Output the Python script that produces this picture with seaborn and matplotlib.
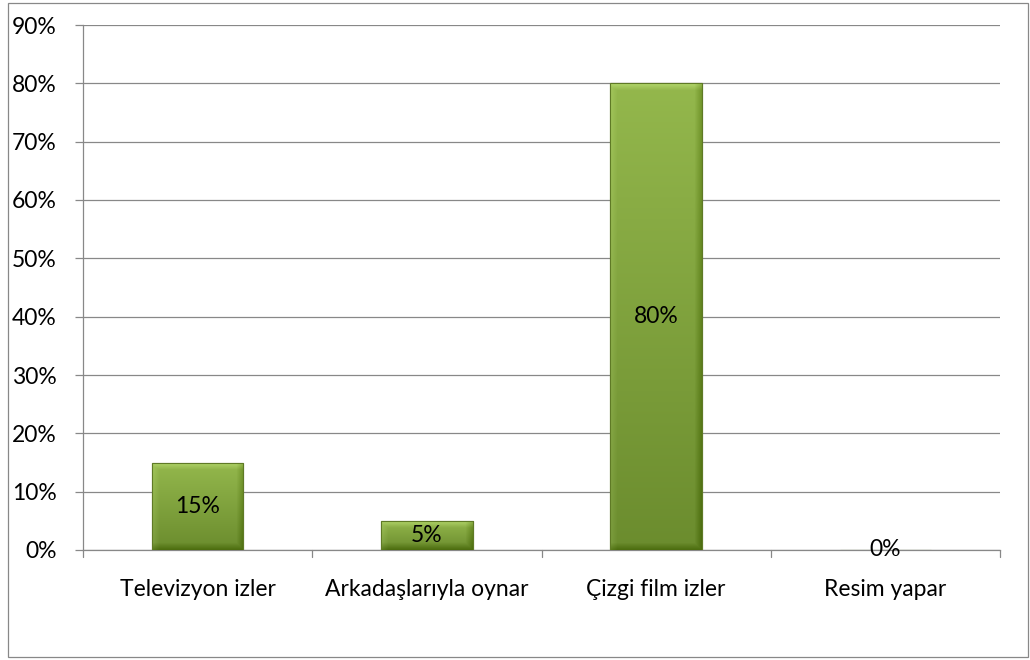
import matplotlib.pyplot as plt
import seaborn as sns
import numpy as np
import pandas as pd
from matplotlib.patches import Rectangle

# Chart data
categories = ["Televizyon izler", "Arkadaşlarıyla oynar", "Çizgi film izler", "Resim yapar"]
values = [15, 5, 80, 0]
yticks = [0, 10, 20, 30, 40, 50, 60, 70, 80, 90]

df = pd.DataFrame({"kategori": categories, "yuzde": values})

sns.set_theme(style="white")
plt.rcParams['font.family'] = ['Lato', 'DejaVu Sans']
FS = 16.5

fig = plt.figure(figsize=(10.3, 6.6), dpi=100)
ax = fig.add_axes([83 / 1030, 1 - 550 / 660, 917 / 1030, 525 / 660])

sns.barplot(data=df, x="kategori", y="yuzde", color="#86a83f", width=0.4,
            edgecolor="#5f7a26", linewidth=0.8, ax=ax, zorder=3)

ax.set_xlim(-0.5, len(categories) - 0.5)
ax.set_ylim(0, 90)

# bevelled gradient fill for each bar (Excel style)
top = np.array([0.58, 0.72, 0.30])
bottom = np.array([0.42, 0.55, 0.18])
px_per_unit_y = 525 / 90
px_per_unit_x = 917 / len(categories)
bev = 7.0
for p in ax.patches:
    h = p.get_height()
    if h <= 0:
        continue
    x0 = p.get_x()
    w = p.get_width()
    nh = max(int(h * px_per_unit_y), 2)
    nw = max(int(w * px_per_unit_x), 2)
    yy, xx = np.mgrid[0:nh, 0:nw]
    t = yy / max(nh - 1, 1)
    base = top + (bottom - top) * t[..., None]
    # bevel: light on top/left, dark on right/bottom
    d_top = np.clip(1 - yy / bev, 0, 1)
    d_left = np.clip(1 - xx / bev, 0, 1)
    d_right = np.clip(1 - (nw - 1 - xx) / bev, 0, 1)
    d_bot = np.clip(1 - (nh - 1 - yy) / bev, 0, 1)
    lighten = np.maximum(d_top, d_left * 0.5)[..., None] * 0.12
    darken = np.maximum(d_right, d_bot)[..., None] * 0.12
    img = np.clip(base + lighten - darken, 0, 1)
    im = ax.imshow(img, extent=[x0, x0 + w, 0, h], origin="upper", aspect="auto",
                   zorder=3.5, interpolation="bilinear")
    im.set_clip_path(p)
    ax.add_patch(Rectangle((x0, 0), w, h, fill=False, edgecolor="#5f7a26",
                           linewidth=0.8, zorder=4))

ax.set_xlim(-0.5, len(categories) - 0.5)
ax.set_ylim(0, 90)

# data labels at the middle of each bar
for i, v in enumerate(values):
    ax.text(i, v / 2, f"{v}%", ha="center", va="center", fontsize=FS,
            color="black", zorder=5)

ax.set_yticks(yticks)
ax.set_yticklabels([f"{t}%" for t in yticks], fontsize=FS)
ax.set_xticks(range(len(categories)))
ax.set_xticklabels(categories, fontsize=FS)
ax.set_xlabel("")
ax.set_ylabel("")

ax.yaxis.grid(True, color="#888888", linewidth=0.9, zorder=0)
ax.xaxis.grid(False)
ax.set_axisbelow(True)

for side in ["top", "right"]:
    ax.spines[side].set_visible(False)
for side in ["left", "bottom"]:
    ax.spines[side].set_color("#888888")
    ax.spines[side].set_linewidth(0.9)

ax.tick_params(axis="y", left=True, length=5.8, width=0.9, pad=13,
               color="#888888", labelcolor="black")
ax.tick_params(axis="x", bottom=False, pad=15, labelcolor="black")
# tick marks between categories
for b in np.arange(-0.5, len(categories), 1.0):
    ax.plot([b, b], [0, -1.2], color="#888888", linewidth=0.9, clip_on=False, zorder=2)

# outer chart border
fig.patches.append(Rectangle((8 / 1030, 3 / 660), 1020 / 1030, 654 / 660,
                             transform=fig.transFigure, fill=False,
                             edgecolor="#888888", linewidth=0.9))

fig.savefig("out.png", dpi=100)
